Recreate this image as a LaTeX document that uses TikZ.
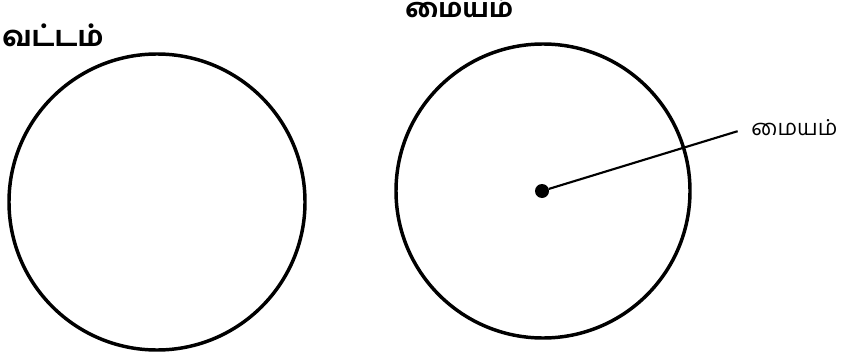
\documentclass[tikz,border=0pt]{standalone}
\usepackage{fontspec}
\newfontfamily\tamilfont[Script=Tamil]{Hind Madurai}
\newfontfamily\tamilbold[Script=Tamil]{Hind Madurai Bold}
\begin{document}
\begin{tikzpicture}[x=0.75pt,y=-0.75pt,every node/.style={font=\tamilfont,inner sep=0}]
\useasboundingbox (0,0) rectangle (856,353);
\node[anchor=base west,font=\tamilbold\fontsize{21}{25}\selectfont] (circletitle) at (2,47) {வட்டம்};
\node[anchor=base west,font=\tamilbold\fontsize{19.5}{23}\selectfont] (centretitle) at (405,18) {மையம்};
\draw[line width=2.6pt] (157,202) circle (148);
\draw[line width=2.6pt] (543,191) circle (147);
\node[circle,fill,minimum size=10.5pt] (centre) at (542,191) {};
\node[anchor=base west,font=\tamilfont\fontsize{16.5}{19}\selectfont] (label) at (751,135) {மையம்};
\draw[line width=1.6pt,shorten >=10.5pt] (centre) -- (label.west);
\end{tikzpicture}
\end{document}
